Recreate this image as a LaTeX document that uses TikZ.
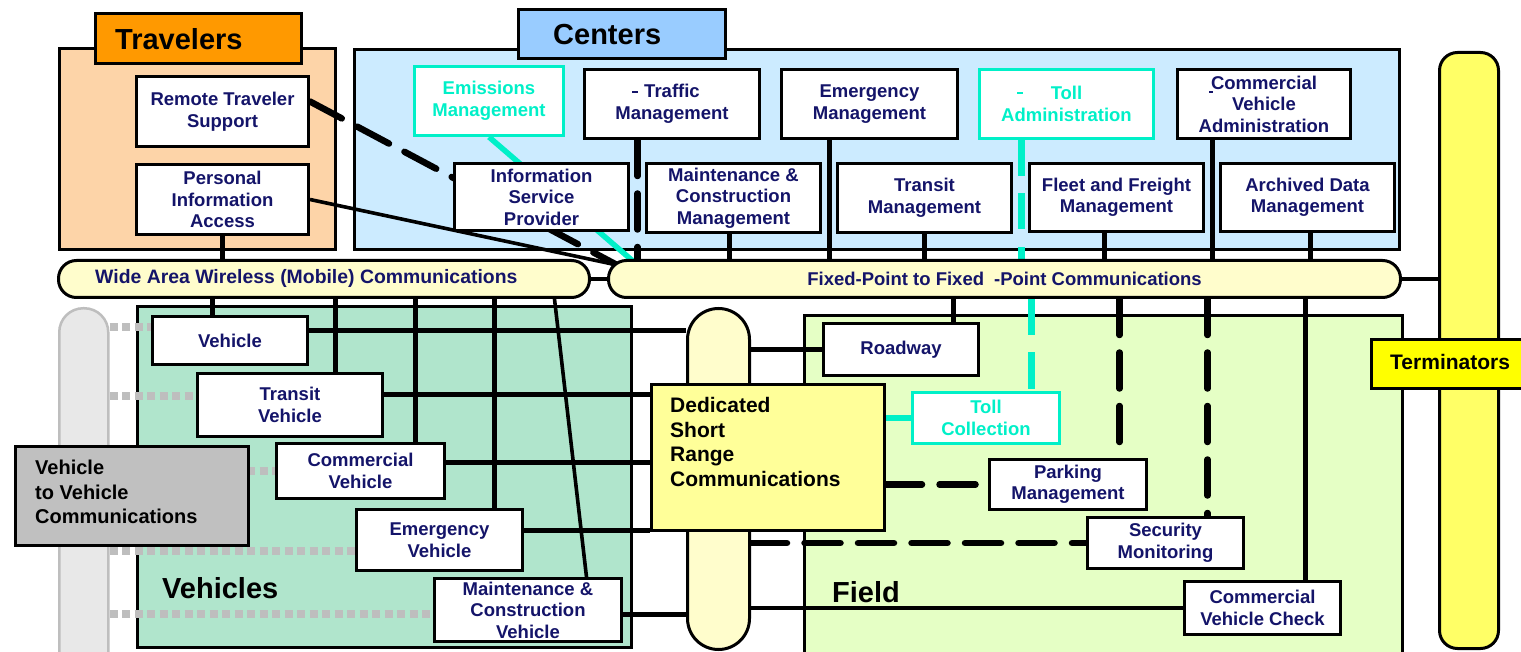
\documentclass[tikz,border=0pt]{standalone}
\usepackage{fontspec}
\setmainfont{Liberation Sans}
\usetikzlibrary{calc}
\definecolor{txtnavy}{RGB}{20,20,105}
\definecolor{aqualine}{RGB}{0,240,200}
\definecolor{travfill}{RGB}{253,212,168}
\definecolor{travhead}{RGB}{255,153,0}
\definecolor{centfill}{RGB}{204,235,255}
\definecolor{centhead}{RGB}{153,204,255}
\definecolor{vehfill}{RGB}{176,229,204}
\definecolor{fieldfill}{RGB}{229,255,197}
\definecolor{busfill}{RGB}{255,253,204}
\definecolor{dsrcfill}{RGB}{255,255,153}
\definecolor{termfill}{RGB}{255,255,102}
\definecolor{termhead}{RGB}{255,255,0}
\definecolor{vvfill}{RGB}{192,192,192}
\definecolor{vvpill}{RGB}{232,232,232}
\definecolor{vvline}{RGB}{190,190,190}
\newcommand\nodefont{\fontsize{18.5}{21.5}\selectfont\bfseries}
\newcommand\titlefont{\fontsize{29}{32}\selectfont\bfseries}
\pgfdeclarelayer{back}
\pgfdeclarelayer{conn}
\pgfsetlayers{back,conn,main}
\begin{document}
\begin{tikzpicture}[x=1pt,y=-1pt,
  grp/.style={draw=black,line width=3pt},
  hdr/.style={draw=black,line width=3pt,anchor=north west,inner sep=0pt},
  ent/.style={draw=black,line width=3pt,fill=white,text=txtnavy,font=\nodefont,align=center,inner sep=0pt,anchor=north west},
  cent/.style={ent,draw=aqualine,text=aqualine},
  busbar/.style={draw=black,line width=3pt,fill=busfill,rounded corners=18pt,inner sep=0pt,anchor=north west,minimum height=37pt,font=\nodefont,text=txtnavy},
  lnk/.style={line width=4.5pt},
  dlnk/.style={line width=6.5pt,dash pattern=on 36pt off 17.5pt,line cap=round},
  clnk/.style={line width=5.5pt,draw=aqualine},
  cdlnk/.style={line width=6.5pt,draw=aqualine,dash pattern=on 36pt off 17.5pt},
  vdot/.style={line width=8pt,draw=vvline,dash pattern=on 8pt off 4.5pt},
  ttl/.style={font=\titlefont,anchor=west,inner sep=0pt}
  ]
\useasboundingbox (0,0) rectangle (1521,652);
\begin{pgfonlayer}{back}
  \fill[white] (0,0) rectangle (1521,652);
  \draw[grp,fill=travfill] (59,49) rectangle (335,250);
  \draw[grp,fill=centfill] (354,50) rectangle (1399,250);
  \draw[grp,fill=vehfill] (137,307) rectangle (631,647);
  \draw[grp,fill=fieldfill] (804,316) rectangle (1402,656);
\end{pgfonlayer}

% headers
\node[hdr,fill=travhead,minimum width=206pt,minimum height=50pt] (travhd) at (94,12) {};
\node[ttl] (travt) at (115,39) {Travelers};
\node[hdr,fill=centhead,minimum width=207pt,minimum height=49pt] (centhd) at (517,8) {};
\node[ttl] (centt) at (553,35) {Centers};

% travelers
\node[ent,minimum width=172pt,minimum height=70pt] (rts) at (135,75) {Remote Traveler\\Support};
\node[ent,minimum width=172pt,minimum height=70pt] (pia) at (135,163) {Personal\\Information\\Access};

% centers
\node[cent,minimum width=149pt,minimum height=69pt] (ems) at (413,65) {Emissions\\Management};
\node[ent,minimum width=175pt,minimum height=69pt] (tfm) at (583,68) {Traffic\\Management};
\node[ent,minimum width=176pt,minimum height=69pt] (emm) at (780,68) {Emergency\\Management};
\node[cent,minimum width=174pt,minimum height=69pt] (tla) at (978,68) {Toll\\Administration};
\node[ent,minimum width=173pt,minimum height=69pt] (cva) at (1176,68) {Commercial\\Vehicle\\Administration};
\node[ent,minimum width=174pt,minimum height=67pt] (isp) at (453,162) {Information\\Service\\Provider};
\node[ent,minimum width=174pt,minimum height=69pt] (mcm) at (645,162) {Maintenance \&\\Construction\\Management};
\node[ent,minimum width=174pt,minimum height=69pt] (trm) at (836,162) {Transit\\Management};
\node[ent,minimum width=174pt,minimum height=68pt] (ffm) at (1028,162) {Fleet and Freight\\Management};
\node[ent,minimum width=174pt,minimum height=68pt] (adm) at (1219,162) {Archived Data\\Management};

% small marks inside boxes
\draw[line width=1.5pt,txtnavy] (632,92) -- (638,92);
\draw[line width=1.5pt,aqualine] (1017,93) -- (1023,93);
\draw[line width=1.3pt,txtnavy] (1209,92) -- (1213,92);

% buses
\node[busbar,minimum width=531pt] (wbus) at (57,259) {};
\node[font=\fontsize{19.4}{22}\selectfont\bfseries,text=txtnavy,anchor=west,inner sep=0pt] (wbust) at (95,278) {Wide Area Wireless (Mobile) Communications};
\node[busbar,minimum width=792pt] (fbus) at (607,259) {Fixed-Point to Fixed\hspace{10pt}-Point Communications};

% terminators
\node[draw=black,line width=3pt,fill=termfill,rounded corners=18pt,minimum width=59pt,minimum height=596pt,anchor=north west,inner sep=0pt] (tpil) at (1438,51) {};
\node[hdr,fill=termhead,minimum width=155pt,minimum height=49pt] (tlab) at (1370,338) {};
\node[font=\fontsize{21}{24}\selectfont\bfseries,anchor=west,inner sep=0pt] (tlabt) at (1390,362) {Terminators};

% vehicles
\node[draw=vvline,line width=2.5pt,fill=vvpill,rounded corners=24pt,minimum width=49pt,minimum height=400pt,anchor=north west,inner sep=0pt] (vp) at (58,307) {};
\node[ent,minimum width=155pt,minimum height=48pt] (veh) at (151,315) {Vehicle};
\node[ent,minimum width=185pt,minimum height=63pt] (tv) at (196,372) {Transit\\Vehicle};
\node[ent,minimum width=168pt,minimum height=55pt] (cv) at (275,442) {Commercial\\Vehicle};
\node[ent,minimum width=166pt,minimum height=61pt] (ev) at (355,508) {Emergency\\Vehicle};
\node[ent,minimum width=187pt,minimum height=63pt] (mcv) at (433,577) {Maintenance \&\\Construction\\Vehicle};
\node[ttl] (vehl) at (162,588) {Vehicles};

% V2V
\node[hdr,fill=vvfill,minimum width=233pt,minimum height=99pt] (vvb) at (14,445) {};
\node[font=\fontsize{20}{24.5}\selectfont\bfseries,align=left,anchor=west,inner sep=0pt] (vvt) at (35,492) {Vehicle\\to Vehicle\\Communications};

% DSRC
\node[draw=black,line width=3pt,fill=busfill,rounded corners=31pt,minimum width=62pt,minimum height=341pt,anchor=north west,inner sep=0pt] (dpil) at (686,307) {};
\node[hdr,fill=dsrcfill,minimum width=233pt,minimum height=146pt] (dsrc) at (650,383) {};
\node[font=\fontsize{21}{24.5}\selectfont\bfseries,align=left,anchor=west,inner sep=0pt] (dsrct) at (670,442) {Dedicated\\Short\\Range\\Communications};

% field
\node[ent,minimum width=155pt,minimum height=52pt] (rw) at (822,322) {Roadway};
\node[cent,minimum width=147pt,minimum height=51pt] (tc) at (911,391) {Toll\\Collection};
\node[ent,minimum width=157pt,minimum height=50pt] (pk) at (988,458) {Parking\\Management};
\node[ent,minimum width=156pt,minimum height=51pt] (sm) at (1086,516) {Security\\Monitoring};
\node[ent,minimum width=156pt,minimum height=53pt] (cvc) at (1183,580) {Commercial\\Vehicle Check};
\node[ttl] (fldl) at (832,592) {Field};

% connectors
\begin{pgfonlayer}{conn}
  \coordinate (fbj) at (617,265);
  \coordinate (fbc) at (634,262);
  \draw[dlnk] ([yshift=10pt]rts.east) -- (fbj);
  \draw[lnk,line width=3.6pt] (pia.east) -- (fbj);
  \draw[clnk] (ems.south) -- (fbc);
  \draw[lnk] (pia.south) -- (pia.south |- wbus.north);
  % centers to fixed bus
  \coordinate (tfmA) at ([xshift=-34.5pt]tfm.south);
  \draw[dlnk] (tfmA) -- (tfmA |- fbus.north);
  \coordinate (emmA) at ([xshift=-40pt]emm.south);
  \draw[lnk] (emmA) -- (emmA |- fbus.north);
  \coordinate (mcmA) at ([xshift=-4pt]mcm.south);
  \draw[lnk] (mcmA) -- (mcmA |- fbus.north);
  \draw[lnk] (trm.south) -- (trm.south |- fbus.north);
  \coordinate (tlaA) at ([xshift=-45pt]tla.south);
  \draw[cdlnk] (tlaA) -- (tlaA |- fbus.north);
  \coordinate (ffmA) at ([xshift=-12pt]ffm.south);
  \draw[lnk] (ffmA) -- (ffmA |- fbus.north);
  \coordinate (cvaA) at ([xshift=-51.5pt]cva.south);
  \draw[lnk] (cvaA) -- (cvaA |- fbus.north);
  \coordinate (admA) at ([xshift=3pt]adm.south);
  \draw[lnk] (admA) -- (admA |- fbus.north);
  % bus links
  \draw[lnk] (wbus.east) -- (fbus.west);
  \draw[lnk] (fbus.east) -- (fbus.east -| tpil.west);
  % wide area bus to vehicles
  \coordinate (vehA) at ([xshift=-17.5pt]veh.north);
  \draw[lnk] (vehA) -- (vehA |- wbus.south);
  \coordinate (tvA) at ([xshift=45.5pt]tv.north);
  \draw[lnk] (tvA) -- (tvA |- wbus.south);
  \coordinate (cvA) at ([xshift=55pt]cv.north);
  \draw[lnk] (cvA) -- (cvA |- wbus.south);
  \coordinate (evA) at ([xshift=55pt]ev.north);
  \draw[lnk] (evA) -- (evA |- wbus.south);
  \coordinate (mcvA) at ([xshift=58.5pt]mcv.north);
  \coordinate (wbS) at ([xshift=230.5pt]wbus.south);
  \draw[lnk,line width=3.6pt] (mcvA) -- (wbS);
  % vehicles to DSRC
  \coordinate (vehR) at ([yshift=10pt]veh.east);
  \draw[lnk] (vehR) -- (vehR -| dpil.west);
  \coordinate (tvR) at ([yshift=10.5pt]tv.east);
  \draw[lnk] (tvR) -- (tvR -| dsrc.west);
  \coordinate (cvR) at ([yshift=8.5pt]cv.east);
  \draw[lnk] (cvR) -- (cvR -| dsrc.west);
  \coordinate (evR) at ([yshift=9.5pt]ev.east);
  \draw[lnk] (evR) -- (evR -| dsrc.west);
  \coordinate (mcvR) at ([yshift=-4.5pt]mcv.east);
  \draw[lnk] (mcvR) -- (mcvR -| dpil.west);
  % V2V dotted
  \coordinate (vehL) at ([yshift=13pt]veh.west);
  \draw[vdot] (vehL -| vp.east) -- (vehL);
  \coordinate (tvL) at ([yshift=9.5pt]tv.west);
  \draw[vdot] (tvL -| vp.east) -- (tvL);
  \draw[vdot] (cv.west -| vp.east) -- (cv.west);
  \coordinate (evL) at ([yshift=-10.5pt]ev.west);
  \draw[vdot] (evL -| vp.east) -- (evL);
  \coordinate (mcvL) at ([yshift=-3.5pt]mcv.west);
  \draw[vdot] (mcvL -| vp.east) -- (mcvL);
  % field
  \draw[lnk] (rw.west -| dpil.east) -- (rw.west);
  \coordinate (rwA) at ([xshift=52.5pt]rw.north);
  \draw[lnk] (rwA) -- (rwA |- fbus.south);
  \draw[clnk] (tc.west -| dsrc.east) -- (tc.west);
  \coordinate (tcA) at ([xshift=45.5pt]tc.north);
  \draw[cdlnk] (tcA |- fbus.south) -- (tcA);
  \draw[dlnk] (pk.west -| dsrc.east) -- (pk.west);
  \coordinate (pkA) at ([xshift=51.5pt]pk.north);
  \draw[dlnk] (pkA |- fbus.south) -- (pkA);
  \draw[dlnk] (sm.west -| dpil.east) -- (sm.west);
  \coordinate (smA) at ([xshift=42pt]sm.north);
  \draw[dlnk] (smA |- fbus.south) -- (smA);
  \draw[lnk] (cvc.west -| dpil.east) -- (cvc.west);
  \coordinate (cvcA) at ([xshift=43pt]cvc.north);
  \draw[lnk] (cvcA |- fbus.south) -- (cvcA);
\end{pgfonlayer}
\end{tikzpicture}
\end{document}
